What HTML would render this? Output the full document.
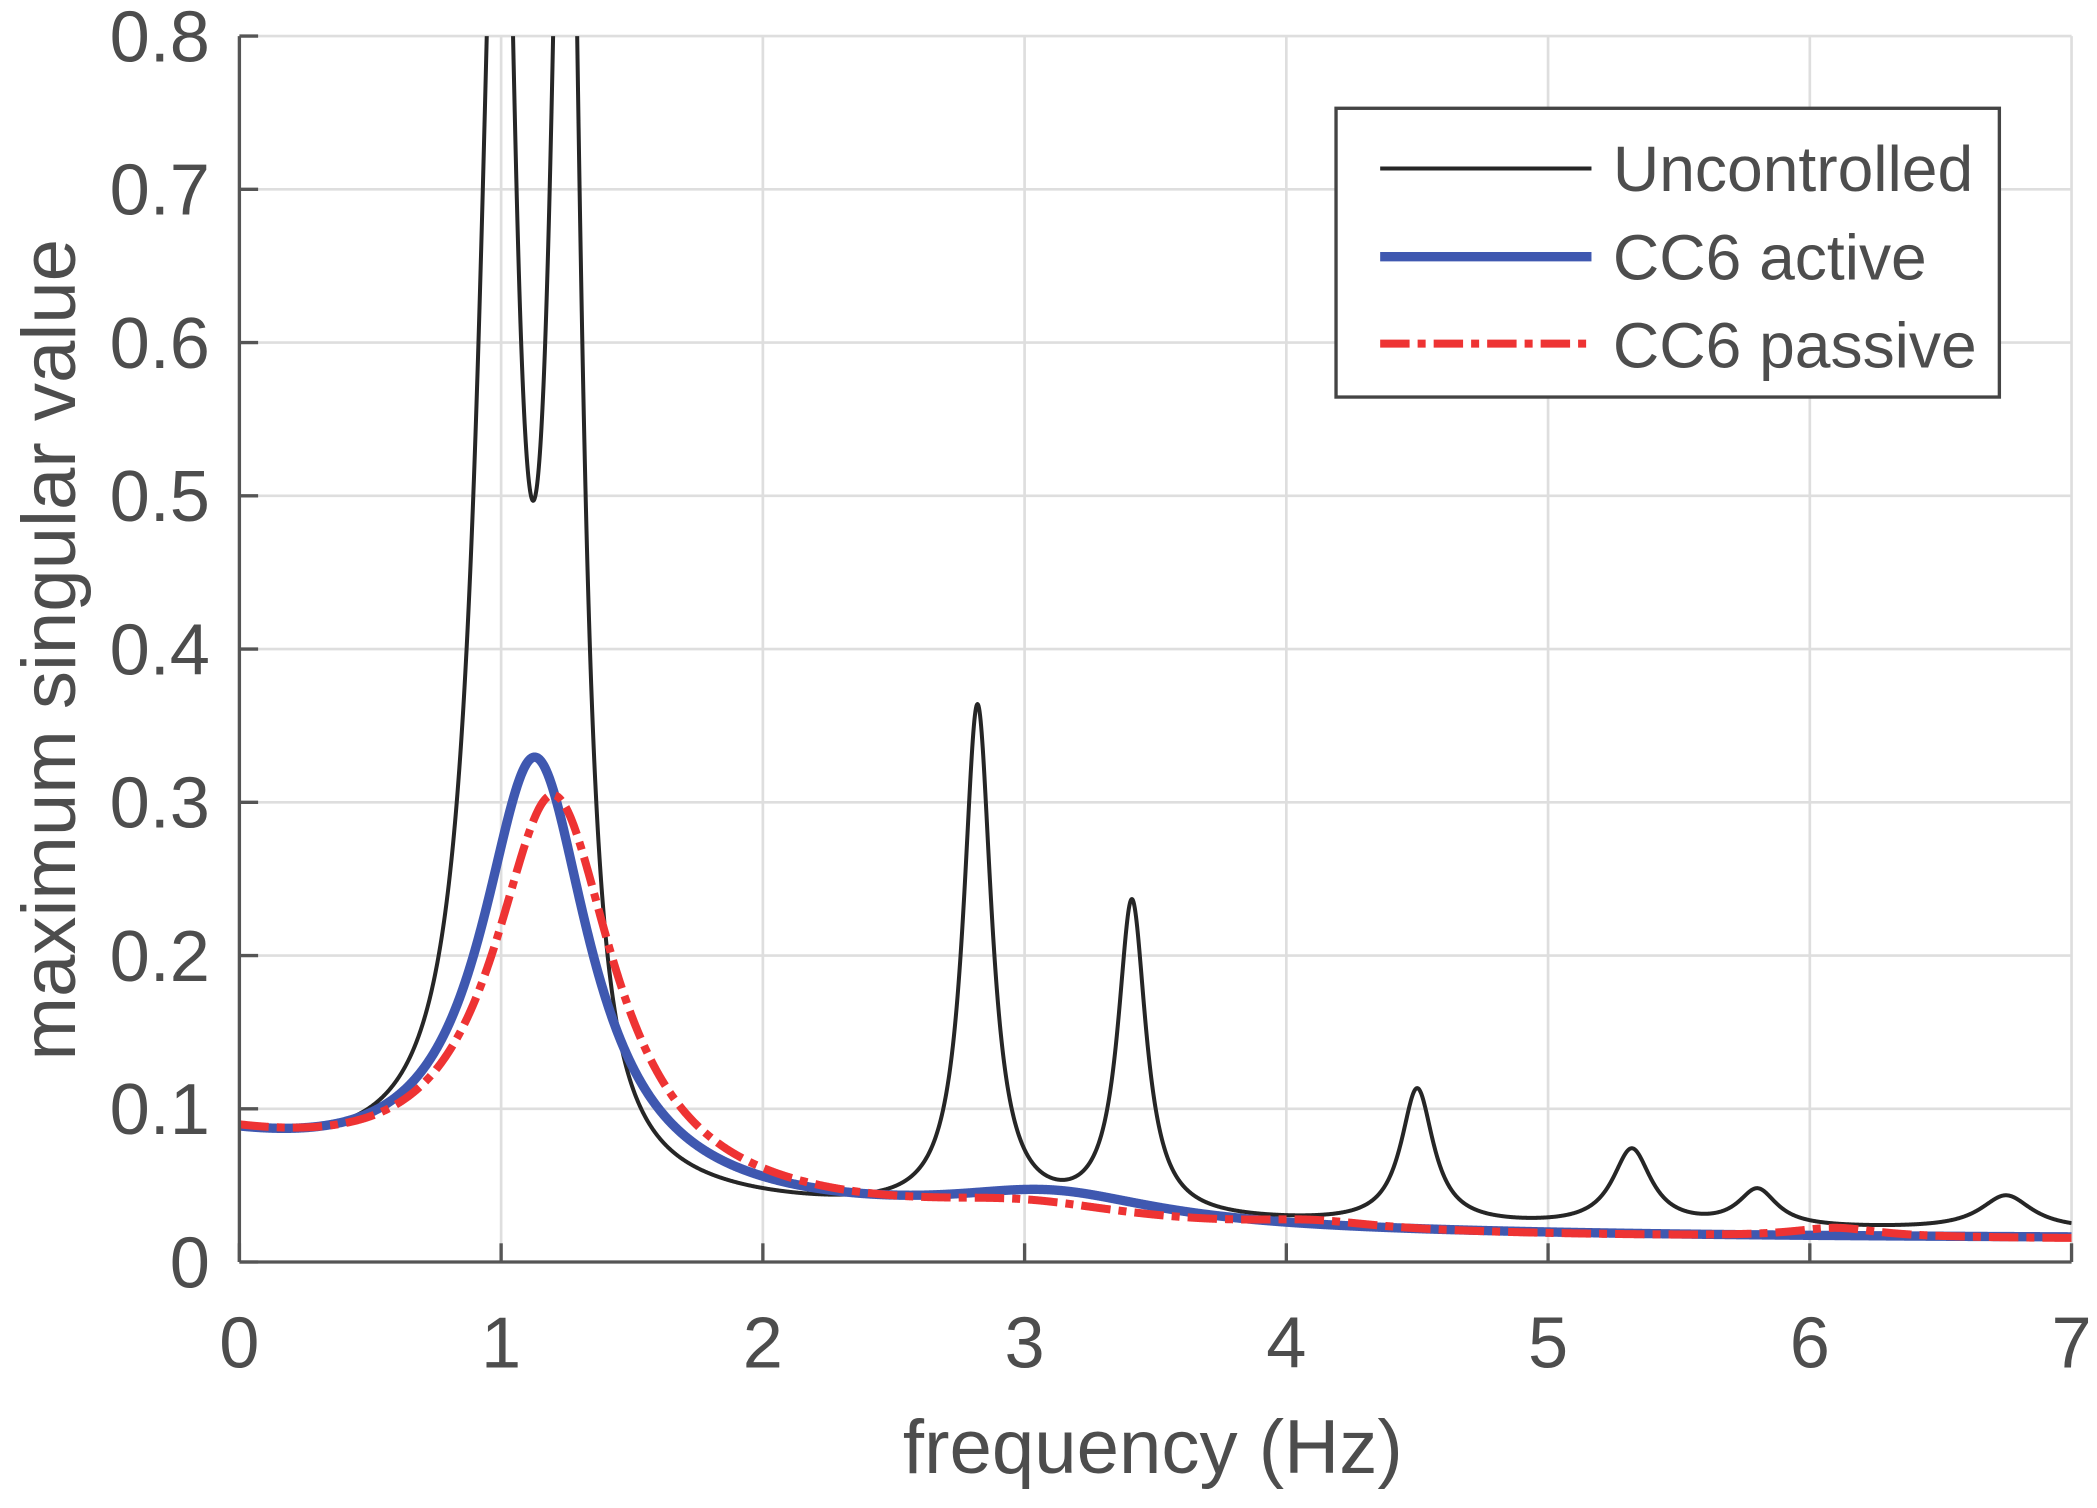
<!DOCTYPE html>
<html><head><meta charset="utf-8"><style>
html,body{margin:0;padding:0;background:#fff;}
svg{display:block;}
text{font-family:"Liberation Sans",Arial,sans-serif;fill:#4d4d4d;}
</style></head><body>
<svg id="s" width="2097" height="1508" viewBox="0 0 1568 1128" preserveAspectRatio="none" xmlns="http://www.w3.org/2000/svg">
<g id="grid" stroke="#dedede" stroke-width="2"></g>
<g id="curves" fill="none" stroke-linejoin="round"></g>
<g stroke="#555" stroke-width="2.5" fill="none">
<line x1="179" y1="27" x2="179" y2="944"/><line x1="179" y1="944" x2="1549" y2="944"/>
</g>
<g id="ticks" stroke="#555" stroke-width="2.5"></g>
<g id="labels" font-size="54"></g>
<text x="862" y="1102" font-size="57" text-anchor="middle">frequency (Hz)</text>
<text transform="translate(56,486) rotate(-90)" font-size="57" text-anchor="middle">maximum singular value</text>
<rect x="999" y="81" width="496" height="216" fill="#fff" stroke="#444" stroke-width="2.5"/>
<line x1="1032" y1="126" x2="1190" y2="126" stroke="#262626" stroke-width="3"/>
<line x1="1032" y1="192" x2="1190" y2="192" stroke="#3f58b0" stroke-width="7"/>
<line x1="1032" y1="257" x2="1190" y2="257" stroke="#ee3333" stroke-width="6" stroke-dasharray="22,6,6,6"/>
<text x="1206" y="143" font-size="48">Uncontrolled</text>
<text x="1206" y="209" font-size="48">CC6 active</text>
<text x="1206" y="275" font-size="48">CC6 passive</text>
</svg>
<script>
var X=function(f){return 179+f*195.71},Y=function(v){return 944-v*1146.25};
var ns="http://www.w3.org/2000/svg";
function el(p,t,a){var e=document.createElementNS(ns,t);for(var k in a)e.setAttribute(k,a[k]);document.getElementById(p).appendChild(e);return e;}
for(var i=1;i<=7;i++){el("grid","line",{x1:X(i),y1:27,x2:X(i),y2:944});}
for(var j=1;j<=8;j++){el("grid","line",{x1:179,y1:Y(j/10),x2:1549,y2:Y(j/10)});}
for(var i=0;i<=7;i++){el("ticks","line",{x1:X(i),y1:944,x2:X(i),y2:930});var t=el("labels","text",{x:X(i),y:1023,"text-anchor":"middle"});t.textContent=i;}
for(var j=0;j<=8;j++){el("ticks","line",{x1:179,y1:Y(j/10),x2:193,y2:Y(j/10)});var t=el("labels","text",{x:157,y:Y(j/10)+19,"text-anchor":"end"});t.textContent=j==0?"0":(j/10).toFixed(1);}
function L(f,c,h,w){return h/(1+Math.pow((f-c)/w,2));}
function LA(f,c,h,wl,wr){var w=f<c?wl:wr;return h/(1+Math.pow((f-c)/w,2));}
function unc(f){return 0.02+0.056*Math.exp(-f/1.5)+LA(f,1.0,0.94,0.094,0.068)+LA(f,1.25,1.03,0.068,0.06)+L(f,2.82,0.33,0.065)+L(f,3.41,0.205,0.065)+L(f,4.5,0.088,0.075)+L(f,5.32,0.05,0.09)+L(f,5.8,0.024,0.09)+L(f,6.75,0.022,0.12);}
function act(f){return 0.015+0.06*Math.exp(-f/1.5)+L(f,1.13,0.285,0.25)+L(f,3.1,0.02,0.5);}
function pas(f){return 0.014+0.062*Math.exp(-f/1.5)+L(f,1.2,0.262,0.28)+L(f,3.0,0.012,0.5)+L(f,4.1,0.005,0.3)+L(f,6.1,0.006,0.2);}
function path(fn){var d="";for(var f=0;f<=7.0001;f+=0.002){var v=Math.min(fn(f),0.83);d+=(f==0?"M":"L")+X(f).toFixed(2)+","+Y(v).toFixed(2);}return d;}
var cp=el("curves","clipPath",{id:"cl"});var r=document.createElementNS(ns,"rect");r.setAttribute("x",179);r.setAttribute("y",27);r.setAttribute("width",1370);r.setAttribute("height",917);cp.appendChild(r);
el("curves","path",{d:path(unc),stroke:"#262626","stroke-width":3,"clip-path":"url(#cl)"});
el("curves","path",{d:path(act),stroke:"#3f58b0","stroke-width":7,"clip-path":"url(#cl)"});
el("curves","path",{d:path(pas),stroke:"#ee3333","stroke-width":6,"stroke-dasharray":"22,6,6,6","clip-path":"url(#cl)"});
</script>
</body></html>
